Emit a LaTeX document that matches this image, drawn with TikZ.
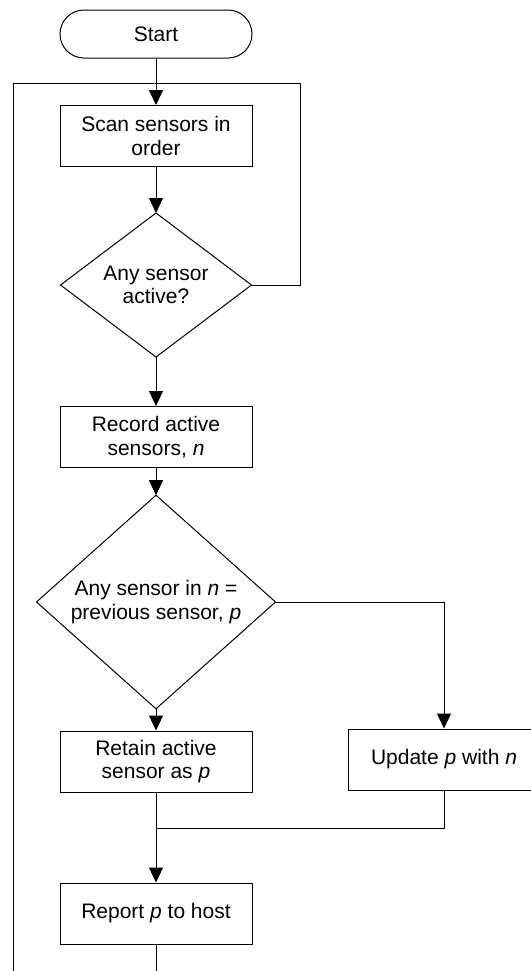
\documentclass[tikz,border=0pt]{standalone}
\usepackage{fontspec}
\setmainfont{Liberation Sans}
\usetikzlibrary{shapes.geometric}
\usetikzlibrary{arrows.meta}
\tikzstyle{debutfin}=[rectangle,draw,rounded corners=12pt,minimum width=96pt,minimum height=24pt,inner sep=0pt]
\tikzstyle{instruct}=[rectangle,draw,minimum width=96pt,minimum height=30.5pt,align=center,inner sep=0pt]
\tikzstyle{test}=[diamond,draw,inner sep=0pt,outer sep=0pt,align=center]
\tikzstyle{suite}=[-{Triangle[length=7.5pt,width=7pt]}]

\begin{document}
\begin{tikzpicture}[x=0.5pt,y=-0.5pt,line width=0.5pt,font=\fontsize{10.5}{11.8}\selectfont]
\useasboundingbox (0,0) rectangle (531,971);
\clip (0,0) rectangle (531,971);
\node[debutfin] (start) at (156,34) {Start};
\node[instruct] (scan) at (156,136) {Scan sensors in\\order};
\node[test,minimum width=95.5pt,minimum height=72pt] (active) at (156,285) {Any sensor\\active?};
\node[instruct] (record) at (156,437) {Record active\\sensors, \textit{n}};
\node[test,minimum width=119.5pt,minimum height=86pt] (same) at (156,602) {Any sensor in \textit{n} =\\previous sensor, \textit{p}};
\node[instruct] (retain) at (156,761.5) {Retain active\\sensor as \textit{p}};
\node[instruct] (update) at (444,759.5) {Update \textit{p} with \textit{n}};
\node[instruct] (report) at (156,913.5) {Report \textit{p} to host};
\coordinate (top) at (156,83);
\coordinate (topR) at (300,83);
\coordinate (merge) at (156,828);
\coordinate (botL) at (13,990);
%Drawing Edges
\draw[suite] (start) -- (scan);
\draw[suite] (scan) -- (active);
\draw (active) -| (topR) -- (top);
\draw[suite] (active) -- (record);
\draw[suite] (record) -- (same);
\draw[suite] (same) -- (retain);
\draw[suite] (same) -| (update);
\draw (update) |- (merge);
\draw[suite] (retain) -- (report);
\draw (report) |- (botL) |- (top);
\end{tikzpicture}
\end{document}
